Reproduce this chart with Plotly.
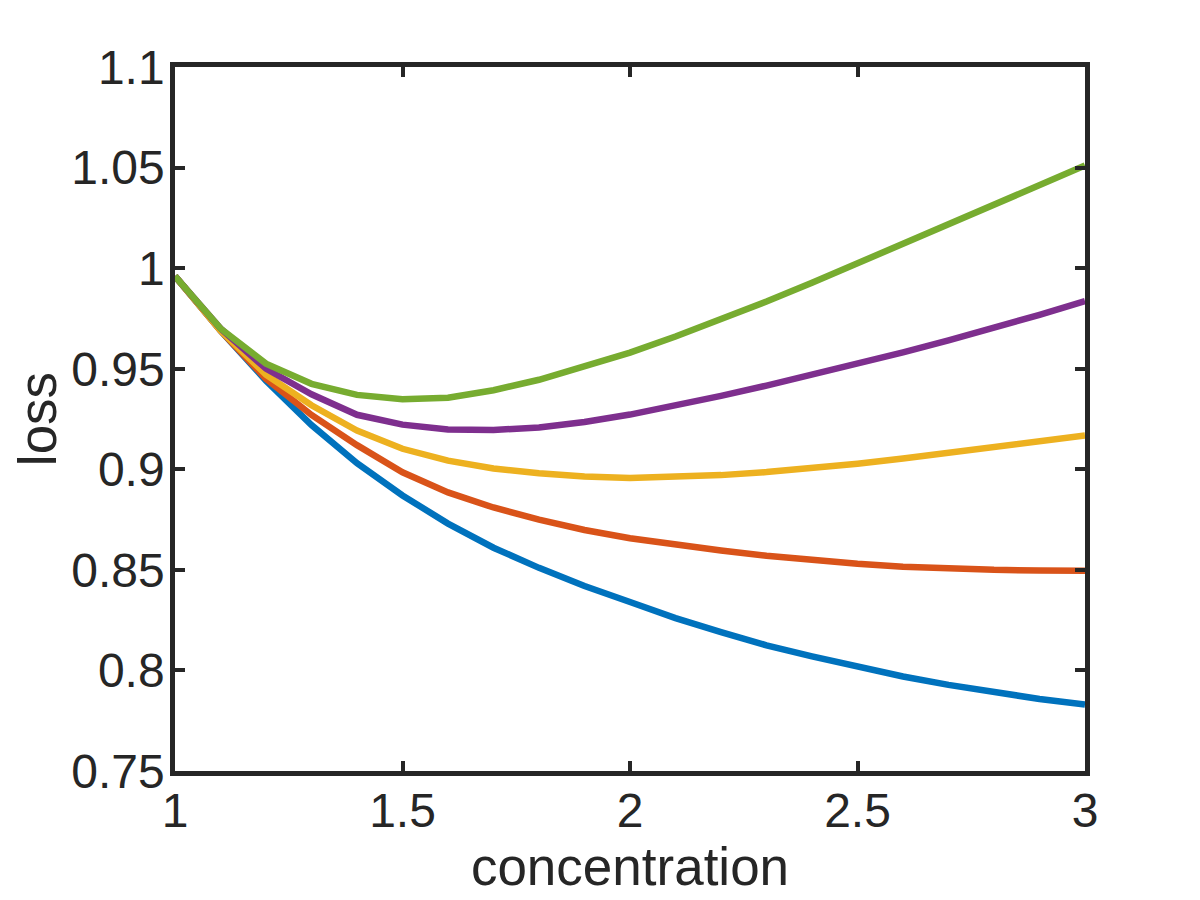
import plotly.graph_objects as go

concentration = [1.0, 1.1, 1.2, 1.3, 1.4, 1.5, 1.6, 1.7, 1.8, 1.9, 2.0,
                 2.1, 2.2, 2.3, 2.4, 2.5, 2.6, 2.7, 2.8, 2.9, 3.0]

loss_blue = [0.996, 0.969, 0.944, 0.922, 0.903, 0.887, 0.873, 0.861, 0.851, 0.842, 0.834,
             0.826, 0.819, 0.8125, 0.807, 0.8018, 0.797, 0.7928, 0.789, 0.7858, 0.783]
loss_orange = [0.996, 0.969, 0.945, 0.927, 0.912, 0.8985, 0.8885, 0.881, 0.875, 0.8698, 0.8657,
               0.8625, 0.8596, 0.857, 0.8548, 0.853, 0.8516, 0.8506, 0.85, 0.8497, 0.8496]
loss_yellow = [0.996, 0.969, 0.947, 0.9318, 0.9193, 0.9102, 0.9043, 0.9004, 0.898, 0.8964, 0.8957,
               0.8961, 0.8971, 0.8986, 0.9005, 0.9028, 0.9054, 0.9082, 0.9111, 0.914, 0.9168]
loss_purple = [0.996, 0.970, 0.950, 0.9373, 0.9271, 0.9222, 0.9198, 0.9195, 0.9208, 0.9235, 0.9272,
               0.9317, 0.9365, 0.9416, 0.9469, 0.9524, 0.9581, 0.9641, 0.9703, 0.9768, 0.9836]
loss_green = [0.996, 0.970, 0.9525, 0.9425, 0.937, 0.9348, 0.9356, 0.9393, 0.9445, 0.951, 0.958,
              0.966, 0.9745, 0.9834, 0.9927, 1.0023, 1.0121, 1.022, 1.0318, 1.0415, 1.051]

x_ticks = [1, 1.5, 2, 2.5, 3]
x_ticktext = ['1', '1.5', '2', '2.5', '3']
y_ticks = [0.75, 0.8, 0.85, 0.9, 0.95, 1.0, 1.05, 1.1]
y_ticktext = ['0.75', '0.8', '0.85', '0.9', '0.95', '1', '1.05', '1.1']

series = [loss_blue, loss_orange, loss_yellow, loss_purple, loss_green]
colors = ['#0072BD', '#D95319', '#EDB120', '#7E2F8E', '#77AC30']

fig = go.Figure()
for ys, c in zip(series, colors):
    fig.add_trace(go.Scatter(x=concentration, y=ys, mode='lines',
                             line=dict(color=c, width=6.5), showlegend=False))

ax_col = '#262626'
axis_common = dict(showline=True, linewidth=4.5, linecolor=ax_col, mirror='ticks',
                   ticks='inside', ticklen=10, tickwidth=4, tickcolor=ax_col,
                   showgrid=False, zeroline=False,
                   tickfont=dict(family='Liberation Sans', size=48, color=ax_col))

fig.update_xaxes(range=[1, 3], tickvals=x_ticks, ticktext=x_ticktext,
                 ticklabelstandoff=-6,
                 title=dict(text='concentration', standoff=6,
                            font=dict(family='Liberation Sans', size=53, color=ax_col)),
                 **axis_common)
fig.update_yaxes(range=[0.75, 1.1], tickvals=y_ticks, ticktext=y_ticktext,
                 ticklabelstandoff=-4,
                 title=dict(text='loss', standoff=12,
                            font=dict(family='Liberation Sans', size=53, color=ax_col)),
                 **axis_common)

fig.update_layout(width=1200, height=900, plot_bgcolor='white', paper_bgcolor='white',
                  margin=dict(l=167, r=123, t=59, b=137))

fig.write_html("out.html")
